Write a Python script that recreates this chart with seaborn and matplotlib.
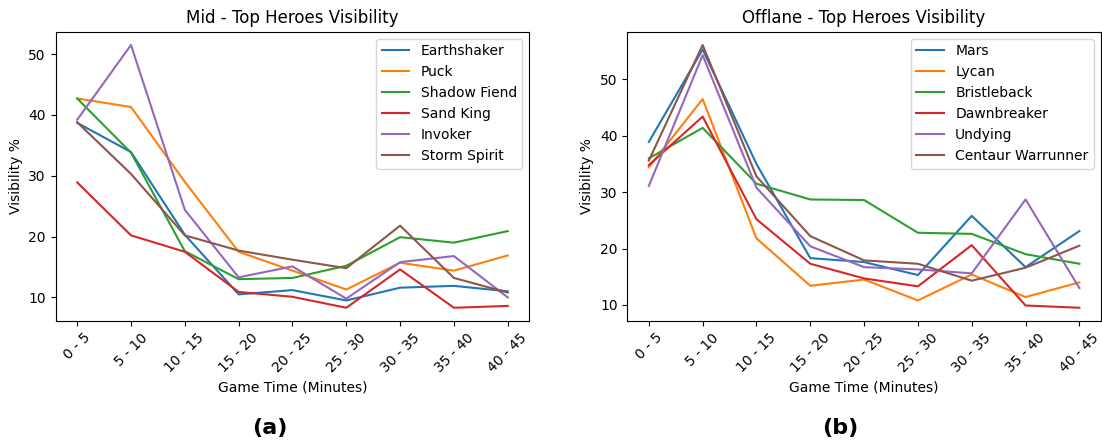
import matplotlib
matplotlib.use("Agg")
import matplotlib.pyplot as plt
import seaborn as sns
import pandas as pd

# time buckets (minutes)
time_bins = ["0 - 5", "5 - 10", "10 - 15", "15 - 20", "20 - 25",
             "25 - 30", "30 - 35", "35 - 40", "40 - 45"]

# mid lane heroes, visibility %
mid_heroes = ["Earthshaker", "Puck", "Shadow Fiend", "Sand King", "Invoker", "Storm Spirit"]
earthshaker = [38.7, 33.9, 20.3, 10.5, 11.2, 9.5, 11.6, 11.9, 11.0]
puck = [42.7, 41.3, 29.0, 17.5, 14.4, 11.3, 15.7, 14.4, 16.9]
shadow_fiend = [42.7, 33.8, 17.6, 13.0, 13.2, 15.2, 19.9, 19.0, 20.9]
sand_king = [28.9, 20.2, 17.5, 10.9, 10.1, 8.3, 14.6, 8.3, 8.6]
invoker = [39.2, 51.5, 24.4, 13.3, 15.1, 9.8, 15.8, 16.8, 10.0]
storm_spirit = [38.8, 30.3, 20.2, 17.7, 16.2, 14.8, 21.8, 13.2, 10.8]

# offlane heroes, visibility %
off_heroes = ["Mars", "Lycan", "Bristleback", "Dawnbreaker", "Undying", "Centaur Warrunner"]
mars = [38.9, 55.3, 35.0, 18.3, 17.6, 15.3, 25.8, 16.7, 23.1]
lycan = [34.4, 46.5, 21.8, 13.4, 14.5, 10.8, 15.4, 11.4, 14.0]
bristleback = [36.0, 41.4, 31.5, 28.7, 28.6, 22.8, 22.6, 19.0, 17.3]
dawnbreaker = [34.8, 43.4, 25.2, 17.3, 14.7, 13.3, 20.6, 9.9, 9.5]
undying = [31.1, 54.3, 30.8, 20.4, 16.7, 16.3, 15.6, 28.7, 13.0]
centaur = [35.6, 56.1, 32.8, 22.2, 17.9, 17.3, 14.3, 16.6, 20.5]


def to_long(names, series):
    rows = []
    for name, vals in zip(names, series):
        for t, v in zip(time_bins, vals):
            rows.append({"Time": t, "Hero": name, "Visibility": v})
    return pd.DataFrame(rows)


mid_df = to_long(mid_heroes, [earthshaker, puck, shadow_fiend, sand_king, invoker, storm_spirit])
off_df = to_long(off_heroes, [mars, lycan, bristleback, dawnbreaker, undying, centaur])

fig, axes = plt.subplots(1, 2, figsize=(11.02, 4.42), dpi=100)
fig.subplots_adjust(left=0.0505, right=0.999, top=0.928, bottom=0.274, wspace=0.207)

for ax, df, title in [(axes[0], mid_df, "Mid - Top Heroes Visibility"),
                      (axes[1], off_df, "Offlane - Top Heroes Visibility")]:
    sns.lineplot(data=df, x="Time", y="Visibility", hue="Hero", ax=ax,
                 palette="tab10", linewidth=1.5, sort=False)
    ax.set_title(title, fontsize=12)
    ax.set_xlabel("Game Time (Minutes)", fontsize=10)
    ax.set_ylabel("Visibility %", fontsize=10)
    ax.tick_params(axis="x", labelrotation=45)
    ax.legend(loc="upper right", title=None, fontsize=10)

fig.text(270 / 1102, 0.032, "(a)", ha="center", va="center", fontsize=16, fontweight="bold")
fig.text(840 / 1102, 0.032, "(b)", ha="center", va="center", fontsize=16, fontweight="bold")

fig.savefig("out.png", dpi=100)
